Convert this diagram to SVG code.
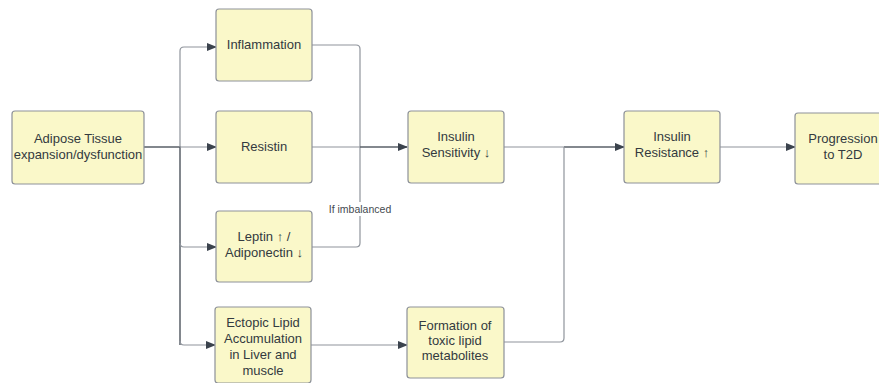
<svg xmlns="http://www.w3.org/2000/svg" width="879" height="383" viewBox="0 0 879 383">
<style>
.box{fill:#faf8c9;stroke:#8d9199;stroke-width:1.2}
.t{font-family:"Liberation Sans",Arial,sans-serif;font-size:13px;fill:#333a40;text-anchor:middle}
.lbl{font-family:"Liberation Sans",Arial,sans-serif;font-size:10.5px;fill:#444a50;text-anchor:middle}
.c{fill:none;stroke:#8f949c;stroke-width:1.2}
.cd{fill:none;stroke:#5a6068;stroke-width:1.5}
</style>
<defs>
<marker id="ah" markerWidth="10" markerHeight="8" refX="9" refY="4" orient="auto" markerUnits="userSpaceOnUse">
<path d="M0,0 L10,4 L0,8 Z" fill="#3b434d"/>
</marker>
</defs>
<rect width="879" height="383" fill="#ffffff"/>
<g id="connectors">
<path class="cd" d="M144,147 H180 V345"/>
<path class="c" d="M180,147 V51 Q180,47 184,47 H216" marker-end="url(#ah)"/>
<path class="c" d="M180,147 H216" marker-end="url(#ah)"/>
<path class="c" d="M180,243 Q180,247 184,247 H216" marker-end="url(#ah)"/>
<path class="c" d="M180,341 Q180,345 184,345 H215" marker-end="url(#ah)"/>
<path class="c" d="M312,45 H356 Q360,45 360,49 V243 Q360,247 356,247 H312"/>
<path class="c" d="M312,147 H360"/>
<path class="cd" d="M360,147 H407" marker-end="url(#ah)"/>
<path class="c" d="M311,345 H407" marker-end="url(#ah)"/>
<path class="c" d="M504,147 H564"/>
<path class="cd" d="M564,147 H624" marker-end="url(#ah)"/>
<path class="c" d="M504,342 H560 Q564,342 564,338 V147"/>
<path class="c" d="M720,147 H795" marker-end="url(#ah)"/>
<rect x="326" y="202" width="68" height="14" fill="#ffffff"/>
<text class="lbl" x="360" y="213">If imbalanced</text>
</g>
<g id="adipose">
<rect class="box" x="12" y="111" width="132" height="73" rx="3"/>
<text class="t" x="78" y="143">Adipose Tissue</text>
<text class="t" x="78" y="159">expansion/dysfunction</text>
</g>
<g id="inflammation">
<rect class="box" x="216" y="9" width="96" height="72" rx="3"/>
<text class="t" x="264" y="49">Inflammation</text>
</g>
<g id="resistin">
<rect class="box" x="216" y="111" width="96" height="72" rx="3"/>
<text class="t" x="264" y="151">Resistin</text>
</g>
<g id="leptin">
<rect class="box" x="216" y="211" width="96" height="71" rx="3"/>
<text class="t" x="264" y="241">Leptin ↑ /</text>
<text class="t" x="264" y="257">Adiponectin ↓</text>
</g>
<g id="ectopic">
<rect class="box" x="215" y="307" width="96" height="76" rx="3"/>
<text class="t" x="263" y="327">Ectopic Lipid</text>
<text class="t" x="263" y="343">Accumulation</text>
<text class="t" x="263" y="359">in Liver and</text>
<text class="t" x="263" y="375">muscle</text>
</g>
<g id="sensitivity">
<rect class="box" x="408" y="111" width="96" height="72" rx="3"/>
<text class="t" x="456" y="141">Insulin</text>
<text class="t" x="456" y="157">Sensitivity ↓</text>
</g>
<g id="formation">
<rect class="box" x="407" y="307" width="97" height="71" rx="3"/>
<text class="t" x="455" y="330">Formation of</text>
<text class="t" x="455" y="345">toxic lipid</text>
<text class="t" x="455" y="360">metabolites</text>
</g>
<g id="resistance">
<rect class="box" x="624" y="111" width="96" height="72" rx="3"/>
<text class="t" x="672" y="141">Insulin</text>
<text class="t" x="672" y="157">Resistance ↑</text>
</g>
<g id="progression">
<rect class="box" x="795" y="113" width="96" height="71" rx="3"/>
<text class="t" x="843" y="143">Progression</text>
<text class="t" x="843" y="159">to T2D</text>
</g>
</svg>
